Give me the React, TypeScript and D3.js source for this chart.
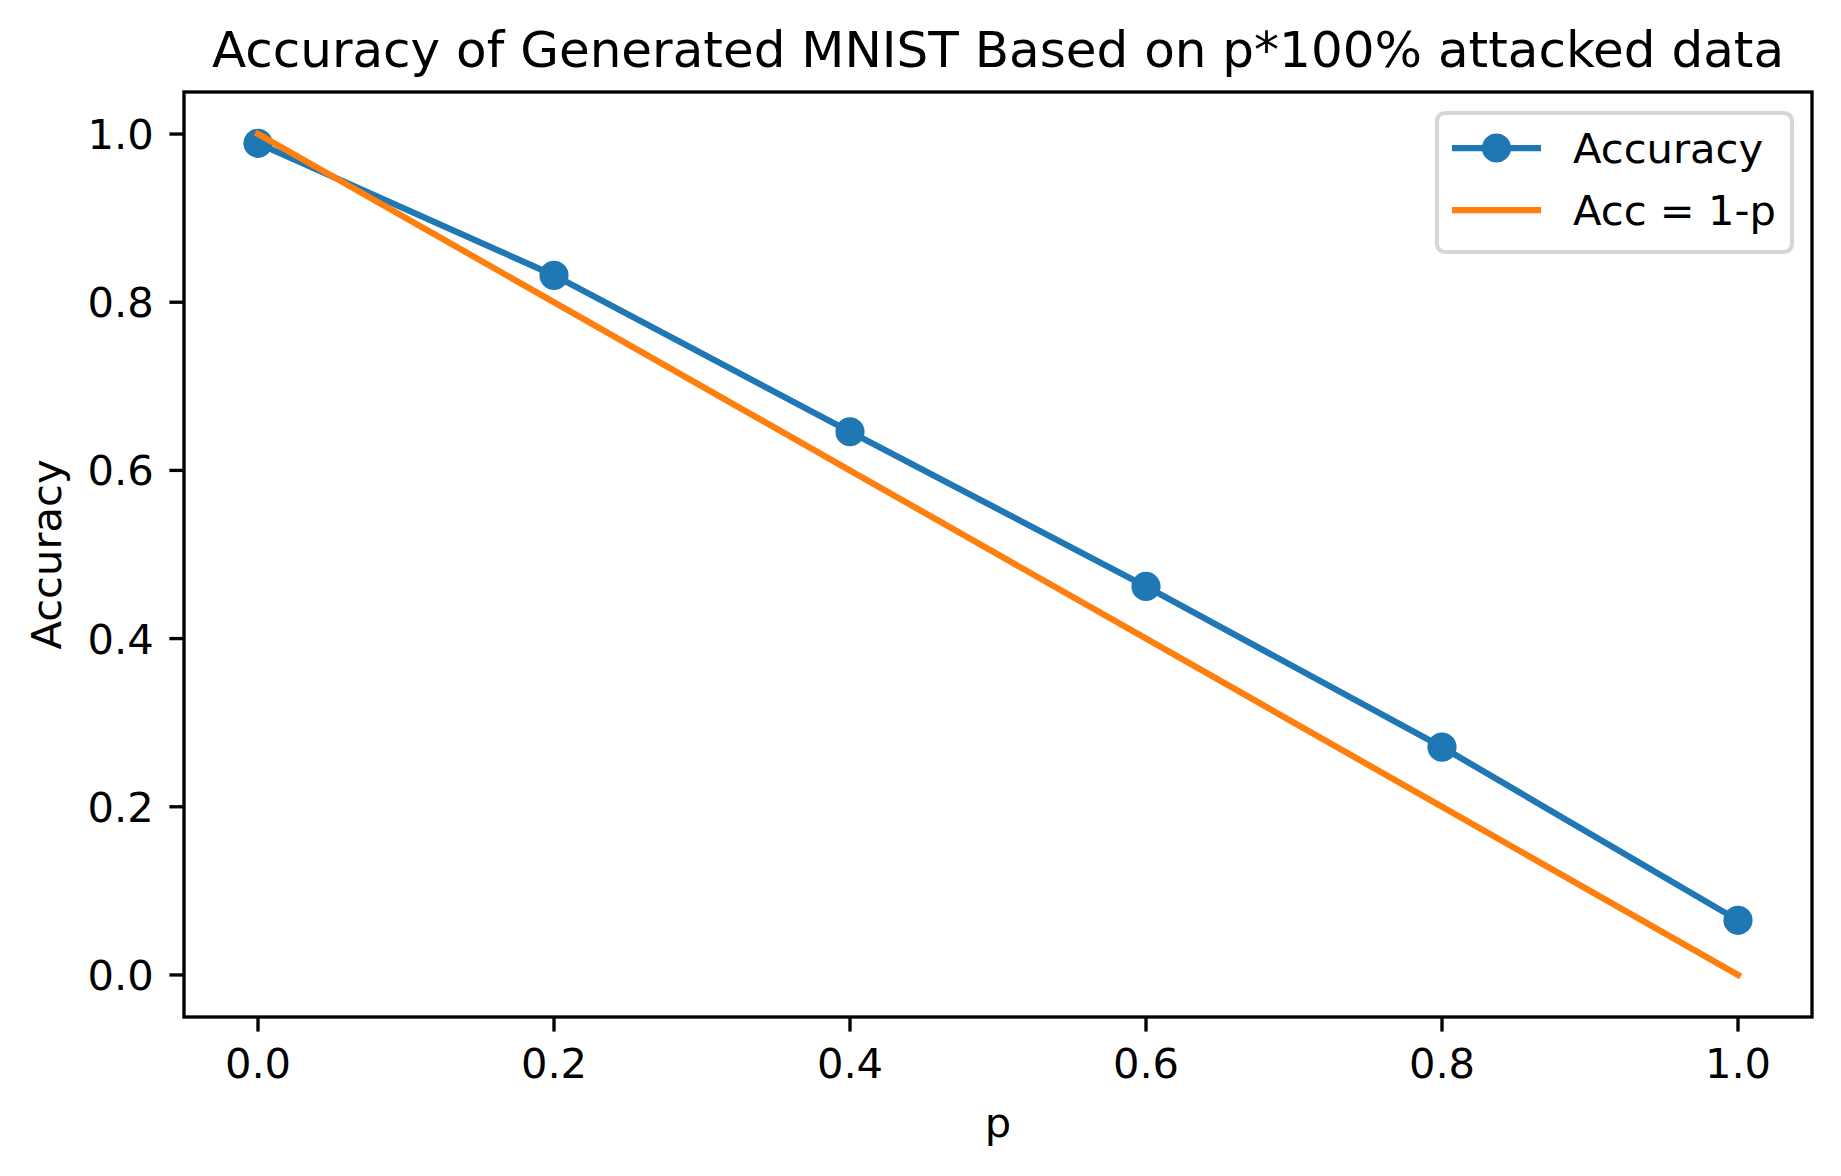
import React from 'react';
import * as d3 from 'd3';

// data
const pValues = [0.0, 0.2, 0.4, 0.6, 0.8, 1.0];
const accuracy = [0.989, 0.832, 0.646, 0.462, 0.271, 0.065];
const baseline = [1.0, 0.8, 0.6, 0.4, 0.2, 0.0];
const xTicks = [0.0, 0.2, 0.4, 0.6, 0.8, 1.0];
const yTicks = [0.0, 0.2, 0.4, 0.6, 0.8, 1.0];
const legendLabels = ['Accuracy', 'Acc = 1-p'];

const W = 1841;
const H = 1176;
const margin = { top: 92, right: 29, bottom: 159, left: 184 };
const BLUE = '#1f77b4';
const ORANGE = '#ff7f0e';
const FONT = 'DejaVu Sans, sans-serif';

export default function App() {
  const innerW = W - margin.left - margin.right;
  const innerH = H - margin.top - margin.bottom;

  const x = d3.scaleLinear().domain([-0.05, 1.05]).range([margin.left, margin.left + innerW]);
  const y = d3.scaleLinear().domain([-0.05, 1.05]).range([margin.top + innerH, margin.top]);

  const line = d3.line<number>()
    .x((_, i) => x(pValues[i]))
    .y(d => y(d));

  const tickLen = 14.6;
  const axisW = 3.33;
  const lw = 6.25;

  // legend
  const lg = { x: 1437, y: 113, w: 355, h: 139 };

  return (
    <div style={{ position: 'absolute', left: 0, top: 0 }}>
      <svg width={W} height={H} style={{ display: 'block', background: '#fff' }} fontFamily={FONT}>
        <rect x={0} y={0} width={W} height={H} fill="#fff" />

        {/* title */}
        <text x={(x.range()[0] + x.range()[1]) / 2} y={67} textAnchor="middle" fontSize={50} fill="#000">
          Accuracy of Generated MNIST Based on p*100% attacked data
        </text>

        {/* series */}
        <path d={line(accuracy) || ''} fill="none" stroke={BLUE} strokeWidth={lw} strokeLinejoin="round" strokeLinecap="square" />
        {accuracy.map((v, i) => (
          <circle key={i} cx={x(pValues[i])} cy={y(v)} r={12.5} fill={BLUE} stroke={BLUE} strokeWidth={4.17} />
        ))}
        <path d={line(baseline) || ''} fill="none" stroke={ORANGE} strokeWidth={lw} strokeLinejoin="round" strokeLinecap="square" />

        {/* spines */}
        <rect x={margin.left} y={margin.top} width={innerW} height={innerH} fill="none" stroke="#000" strokeWidth={axisW} strokeLinejoin="miter" />

        {/* x ticks */}
        {xTicks.map(t => (
          <g key={'x' + t}>
            <line x1={x(t)} x2={x(t)} y1={margin.top + innerH} y2={margin.top + innerH + tickLen} stroke="#000" strokeWidth={axisW} />
            <text x={x(t)} y={1078} textAnchor="middle" fontSize={41.67} fill="#000">{t.toFixed(1)}</text>
          </g>
        ))}

        {/* y ticks */}
        {yTicks.map(t => (
          <g key={'y' + t}>
            <line x1={margin.left - tickLen} x2={margin.left} y1={y(t)} y2={y(t)} stroke="#000" strokeWidth={axisW} />
            <text x={margin.left - 2 * tickLen - 1} y={y(t) + 15} textAnchor="end" fontSize={41.67} fill="#000">{t.toFixed(1)}</text>
          </g>
        ))}

        {/* axis labels */}
        <text x={x(0.5)} y={1137} textAnchor="middle" fontSize={41.67} fill="#000">p</text>
        <text transform={`translate(61,${(margin.top + margin.top + innerH) / 2}) rotate(-90)`} textAnchor="middle" fontSize={41.67} fill="#000">Accuracy</text>

        {/* legend */}
        <rect x={lg.x} y={lg.y} width={lg.w} height={lg.h} rx={8} ry={8} fill="#fff" fillOpacity={0.8} stroke="#cccccc" strokeOpacity={0.8} strokeWidth={4.17} />
        {legendLabels.map((label, i) => {
          const cy = 148 + i * 62;
          const color = i === 0 ? BLUE : ORANGE;
          return (
            <g key={label}>
              <line x1={1452} x2={1541} y1={cy} y2={cy} stroke={color} strokeWidth={lw} />
              {i === 0 && <circle cx={1496.5} cy={cy} r={12.5} fill={BLUE} stroke={BLUE} strokeWidth={4.17} />}
              <text x={1573} y={cy + 15} fontSize={41.67} fill="#000">{label}</text>
            </g>
          );
        })}
      </svg>
    </div>
  );
}
